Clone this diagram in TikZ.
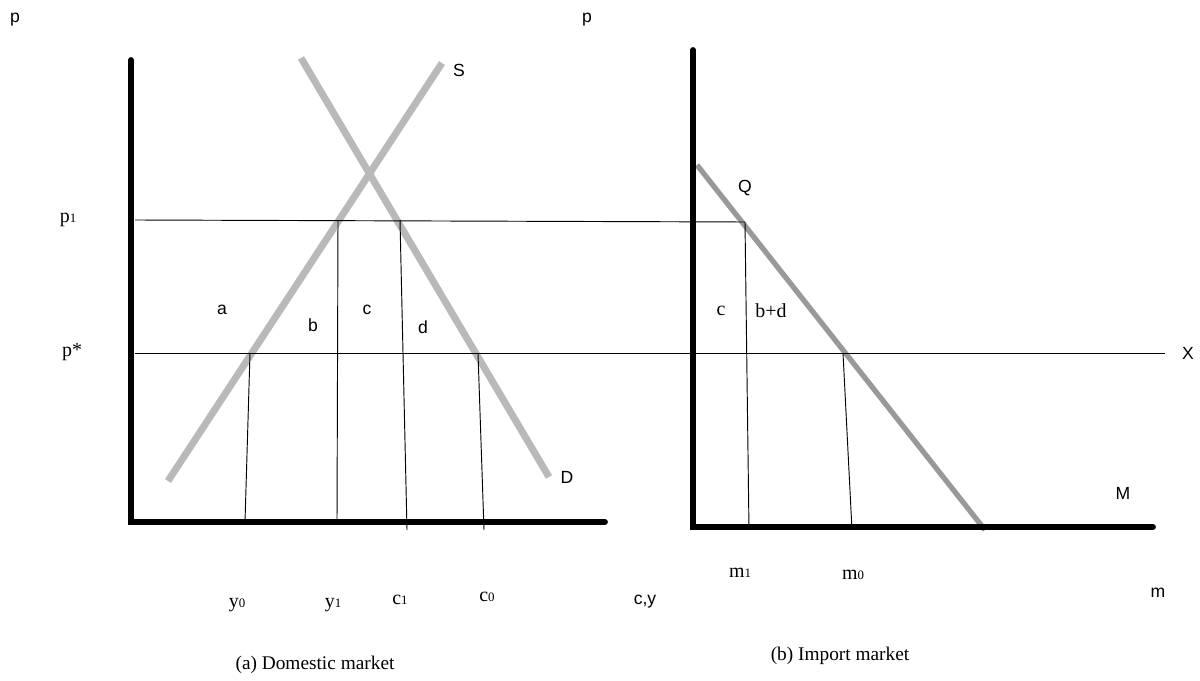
\documentclass[tikz,border=0pt]{standalone}
\usepackage{fontspec}
\setmainfont{Liberation Serif}
\setsansfont{Liberation Sans}
\usetikzlibrary{positioning}
\newcommand{\subsm}[1]{{\fontsize{11}{11}\selectfont #1}}

\begin{document}
\begin{tikzpicture}[x=0.3mm, y=-0.3mm,
        axis/.style={line width=5pt, line cap=round},
        curve/.style={line width=6pt, gray!55},
        mcurve/.style={line width=4.5pt, gray!80},
        guide/.style={line width=0.8pt},
        slabel/.style={font=\sffamily\fontsize{15}{17}\selectfont, inner sep=0pt},
        rlabel/.style={font=\rmfamily\fontsize{17}{19}\selectfont, inner sep=0pt},
        caption/.style={font=\rmfamily\fontsize{16.5}{18}\selectfont, inner sep=0pt}
    ]
        \useasboundingbox (0,0) rectangle (1200,681);

        % domestic market
        \coordinate (Otop) at (131,60);
        \coordinate (O) at (131,522);
        \coordinate (Oend) at (605,522);
        \coordinate (Sbot) at (168,481);
        \coordinate (Stop) at (442,63);
        \coordinate (Dtop) at (301,58);
        \coordinate (Dbot) at (549,477);

        \draw[curve] (Sbot) -- (Stop);
        \draw[curve] (Dtop) -- (Dbot);

        % import market
        \coordinate (Mtop) at (693,50);
        \coordinate (M0) at (693,527);
        \coordinate (Mend) at (1153,527);
        \coordinate (Qtop) at (697,165);
        \coordinate (Qbot) at (985,530);

        \draw[mcurve] (Qtop) -- (Qbot);

        % price lines
        \coordinate (p1l) at (135,220);
        \coordinate (Qpt) at (745,222);
        \coordinate (psl) at (135,353);
        \coordinate (psr) at (1165,353);
        \draw[guide] (p1l) -- (Qpt);
        \draw[guide] (psl) -- (psr);

        % quantity lines
        \coordinate (y0t) at (250,353);
        \coordinate (y0b) at (245,522);
        \coordinate (y1t) at (338,220);
        \coordinate (y1b) at (337,522);
        \coordinate (c1t) at (400,220);
        \coordinate (c1b) at (407,530);
        \coordinate (c0t) at (478,353);
        \coordinate (c0b) at (484,530);
        \coordinate (m1b) at (749,530);
        \coordinate (m0t) at (843,353);
        \coordinate (m0b) at (852,530);
        \draw[guide] (y0t) -- (y0b);
        \draw[guide] (y1t) -- (y1b);
        \draw[guide] (c1t) -- (c1b);
        \draw[guide] (c0t) -- (c0b);
        \draw[guide] (Qpt) -- (m1b);
        \draw[guide] (m0t) -- (m0b);

        \draw[axis] (Otop) -- (O) -- (Oend);
        \draw[axis] (Mtop) -- (M0) -- (Mend);

        % labels
        \node[slabel] (pa) at (15,20) {p};
        \node[slabel] (pb) at (587,20) {p};
        \node[rlabel] (p1) at (68,220) {p\subsm{1}};
        \node[rlabel] (ps) at (72,352) {p*};
        \node[slabel] (la) at (222,310) {a};
        \node[slabel] (lb) at (313,325) {b};
        \node[slabel] (lc) at (367,310) {c};
        \node[slabel] (ld) at (423,327) {d};
        \node[slabel] (lS) at (459,70) {S};
        \node[slabel] (lD) at (567,477) {D};
        \node[rlabel] (y0) at (237,605) {y\subsm{0}};
        \node[rlabel] (y1) at (333,605) {y\subsm{1}};
        \node[rlabel] (c1) at (400,600) {c\subsm{1}};
        \node[rlabel] (c0) at (487,597) {c\subsm{0}};
        \node[slabel] (cy) at (645,602) {c,y};
        \node[caption] (capa) at (315,665) {(a) Domestic market};

        \node[slabel] (lQ) at (745,188) {Q};
        \node[rlabel] (lc2) at (721,311) {c};
        \node[rlabel] (lbd) at (771,311) {b+d};
        \node[slabel] (lX) at (1188,353) {X};
        \node[slabel] (lM) at (1123,493) {M};
        \node[slabel] (lm) at (1158,593) {m};
        \node[rlabel] (m1) at (740,573) {m\subsm{1}};
        \node[rlabel] (m0) at (853,575) {m\subsm{0}};
        \node[caption] (capb) at (840,656) {(b) Import market};
    \end{tikzpicture}
\end{document}
